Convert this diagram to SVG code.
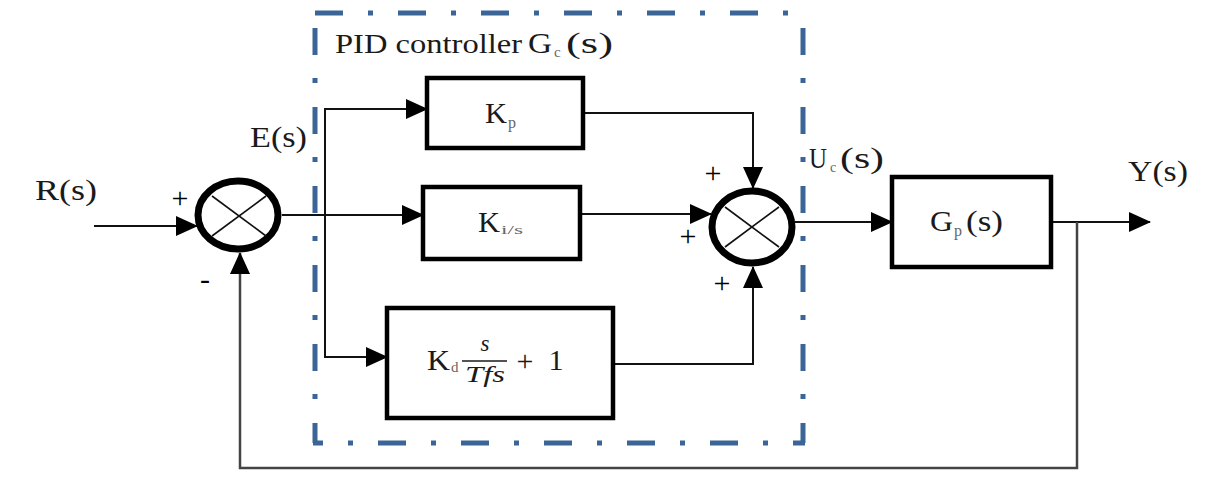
<svg xmlns="http://www.w3.org/2000/svg" width="1222" height="495" viewBox="0 0 1222 495">
<style>
.blk{fill:#fff;stroke:#000;stroke-width:4.5}
.sum{fill:#fff;stroke:#000;stroke-width:7}
.x{stroke:#111;stroke-width:1.6;fill:none}
.cn{fill:none;stroke:#111;stroke-width:2}
.fb{fill:none;stroke:#444;stroke-width:2.5}
.dsh{stroke:#3b6596;stroke-width:5;fill:none}
.t{font-family:"Liberation Serif","Times New Roman",serif;fill:#1a1a1a}
.sub{font-family:"Liberation Serif","Times New Roman",serif;fill:#666}
.it{font-family:"Liberation Serif","Times New Roman",serif;font-style:italic;fill:#1a1a1a}
.pm{font-family:"Liberation Serif","Times New Roman",serif;fill:#000;font-size:30px;text-anchor:middle}
</style>
<defs>
<marker id="ah" markerUnits="userSpaceOnUse" markerWidth="22" markerHeight="20" refX="21" refY="10" orient="auto">
<path d="M0,0 L22,10 L0,20 z" fill="#000"/>
</marker>
</defs>

<g id="pid-box">
<line class="dsh" x1="315" y1="13" x2="795" y2="13" stroke-dasharray="28 25 5 25"/>
<line class="dsh" x1="315" y1="28" x2="315" y2="443" stroke-dasharray="27 23 5 24"/>
<line class="dsh" x1="803" y1="28" x2="803" y2="443" stroke-dasharray="27 23 5 24"/>
<line class="dsh" x1="313" y1="443" x2="805" y2="443" stroke-dasharray="5 25 28 25" stroke-dashoffset="48"/>
<text class="t" x="335" y="53" font-size="28" textLength="187" lengthAdjust="spacingAndGlyphs">PID controller</text>
<text class="t" x="528" y="53" font-size="29" textLength="24" lengthAdjust="spacingAndGlyphs">G</text>
<text class="sub" x="554" y="57" font-size="15">c</text>
<text class="t" x="566" y="53" font-size="29" textLength="47" lengthAdjust="spacingAndGlyphs">(s)</text>
</g>

<g id="connectors">
<path class="cn" d="M94,226 H197" marker-end="url(#ah)"/>
<path class="cn" d="M282,215 H423" marker-end="url(#ah)"/>
<path class="cn" d="M325,215 V109 H427" marker-end="url(#ah)"/>
<path class="cn" d="M325,215 V357 H387" marker-end="url(#ah)"/>
<path class="cn" d="M583,113 H753 V188" marker-end="url(#ah)"/>
<path class="cn" d="M580,214 H711" marker-end="url(#ah)"/>
<path class="cn" d="M613,364 H753 V267" marker-end="url(#ah)"/>
<path class="cn" d="M795,222 H892" marker-end="url(#ah)"/>
<path class="cn" d="M1051,222 H1150" marker-end="url(#ah)"/>
<path class="fb" d="M1077,222 V468 H240 V253" marker-end="url(#ah)"/>
</g>

<g id="sum1">
<ellipse class="sum" cx="238" cy="215" rx="40" ry="34"/>
<line class="x" x1="212" y1="196" x2="266" y2="236"/>
<line class="x" x1="212" y1="236" x2="266" y2="196"/>
</g>

<g id="sum2">
<ellipse class="sum" cx="752" cy="227" rx="40" ry="36"/>
<line class="x" x1="725" y1="207" x2="779" y2="247"/>
<line class="x" x1="725" y1="247" x2="779" y2="207"/>
</g>

<g id="kp">
<rect class="blk" x="427" y="78" width="156" height="70"/>
<text class="t" x="485" y="123" font-size="30" textLength="22" lengthAdjust="spacingAndGlyphs">K</text>
<text class="sub" x="508" y="128" font-size="16">p</text>
</g>

<g id="ki">
<rect class="blk" x="423" y="187" width="157" height="72"/>
<text class="t" x="478" y="232" font-size="30" textLength="22" lengthAdjust="spacingAndGlyphs">K</text>
<text class="sub" x="501" y="234" font-size="13" textLength="22" lengthAdjust="spacingAndGlyphs">i/s</text>
</g>

<g id="kd">
<rect class="blk" x="387" y="308" width="226" height="110"/>
<text class="t" x="427" y="370" font-size="30" textLength="23" lengthAdjust="spacingAndGlyphs">K</text>
<text class="sub" x="451" y="372" font-size="15">d</text>
<text class="it" x="485" y="351" font-size="23" text-anchor="middle">s</text>
<line x1="462" y1="361" x2="507" y2="361" stroke="#1a1a1a" stroke-width="1.6"/>
<text class="it" x="465" y="382" font-size="23" textLength="40" lengthAdjust="spacingAndGlyphs">Tfs</text>
<text class="t" x="525" y="371" font-size="30" text-anchor="middle">+</text>
<text class="t" x="556" y="370" font-size="30" text-anchor="middle">1</text>
</g>

<g id="gp">
<rect class="blk" x="892" y="177" width="159" height="90"/>
<text class="t" x="930" y="231" font-size="29" textLength="23" lengthAdjust="spacingAndGlyphs">G</text>
<text class="sub" x="954" y="236" font-size="16">p</text>
<text class="t" x="966" y="231" font-size="29" textLength="37" lengthAdjust="spacingAndGlyphs">(s)</text>
</g>

<g id="labels">
<text class="t" x="35" y="200" font-size="30" textLength="62" lengthAdjust="spacingAndGlyphs">R(s)</text>
<text class="t" x="250" y="147" font-size="30" textLength="57" lengthAdjust="spacingAndGlyphs">E(s)</text>
<text class="t" x="809" y="168" font-size="29" textLength="18" lengthAdjust="spacingAndGlyphs">U</text>
<text class="sub" x="830" y="172" font-size="14">c</text>
<text class="t" x="840" y="168" font-size="29" textLength="44" lengthAdjust="spacingAndGlyphs">(s)</text>
<text class="t" x="1128" y="181" font-size="30" textLength="60" lengthAdjust="spacingAndGlyphs">Y(s)</text>
<text class="pm" x="180" y="208">+</text>
<text class="pm" x="205" y="289">-</text>
<text class="pm" x="713" y="183">+</text>
<text class="pm" x="688" y="246">+</text>
<text class="pm" x="722" y="293">+</text>
</g>
</svg>
